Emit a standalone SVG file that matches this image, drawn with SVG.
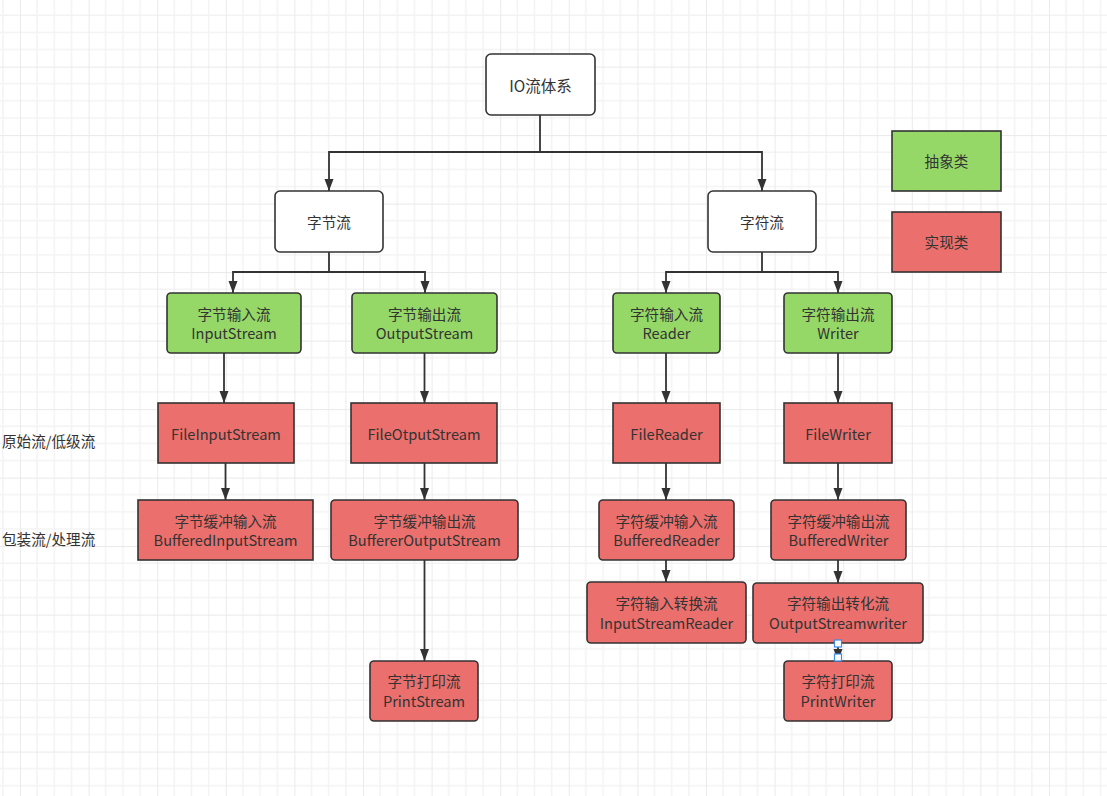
<svg xmlns="http://www.w3.org/2000/svg" width="1107" height="796" viewBox="0 0 1107 796">
  <defs>
    <pattern id="grid" patternUnits="userSpaceOnUse" x="20" y="66.6" width="68.6" height="68.5">
      <path d="M17.15 0V68.5M34.3 0V68.5M51.45 0V68.5M0 17.12H68.6M0 34.25H68.6M0 51.37H68.6" stroke="#f3f3f3" stroke-width="1.5" fill="none"/>
      <path d="M0 0V68.5M0 0H68.6" stroke="#e9e9e9" stroke-width="1.8" fill="none"/>
    </pattern>
    <marker id="arr" markerUnits="userSpaceOnUse" markerWidth="12" markerHeight="10" refX="12" refY="4.5" orient="auto">
      <path d="M0 0L12 4.5L0 9z" fill="#333"/>
    </marker>
    <style>
      .n rect{stroke:#333;stroke-width:1.6}
      .w{fill:#fff}
      .g{fill:#96d867}
      .r{fill:#eb6f6c}
      text{font-family:"Microsoft YaHei","Noto Sans CJK SC","Noto Sans",sans-serif;font-size:14.6px;fill:#333;text-anchor:middle;dominant-baseline:central}
      .lbl{text-anchor:start}
      .c path{stroke:#333;stroke-width:1.8;fill:none;marker-end:url(#arr)}
      .h{fill:#fff;stroke:#3d8eea;stroke-width:1.2}
    </style>
  </defs>
  <rect width="1107" height="796" fill="#fff"/>
  <rect width="1107" height="796" fill="url(#grid)"/>

  <g id="connectors" class="c">
    <path d="M540 115V152H329V191"/>
    <path d="M540 152H762V191"/>
    <path d="M329 252V272H233V293"/>
    <path d="M329 272H425V293"/>
    <path d="M762 252V272H666V293"/>
    <path d="M762 272H838V293"/>
    <path d="M224 353V403"/>
    <path d="M225.5 463V500"/>
    <path d="M424.5 353V403"/>
    <path d="M424.5 463V500"/>
    <path d="M424.5 560V661"/>
    <path d="M666 353V403"/>
    <path d="M666 463V500"/>
    <path d="M666 560V582"/>
    <path d="M838 353V403"/>
    <path d="M838 463V500"/>
    <path d="M838 560V583"/>
    <path d="M838 643V661"/>
  </g>

  <g id="io" class="n"><rect class="w" x="486" y="54" width="109" height="61" rx="5"/><text x="540.5" y="84.5" style="font-size:15.5px">IO流体系</text></g>
  <g id="byteStream" class="n"><rect class="w" x="275" y="191" width="108" height="61" rx="5"/><text x="329" y="221.5">字节流</text></g>
  <g id="charStream" class="n"><rect class="w" x="708" y="191" width="108" height="61" rx="5"/><text x="762" y="221.5">字符流</text></g>

  <g id="inputStream" class="n"><rect class="g" x="167" y="293" width="134" height="60" rx="4"/><text x="234" y="313">字节输入流</text><text x="234" y="332.5">InputStream</text></g>
  <g id="outputStream" class="n"><rect class="g" x="352" y="293" width="145" height="60" rx="4"/><text x="424.5" y="313">字节输出流</text><text x="424.5" y="332.5">OutputStream</text></g>
  <g id="reader" class="n"><rect class="g" x="613" y="293" width="107" height="60" rx="4"/><text x="666.5" y="313">字符输入流</text><text x="666.5" y="332.5">Reader</text></g>
  <g id="writer" class="n"><rect class="g" x="784" y="293" width="108" height="60" rx="4"/><text x="838" y="313">字符输出流</text><text x="838" y="332.5">Writer</text></g>

  <g id="fileInputStream" class="n"><rect class="r" x="158" y="403" width="136" height="60"/><text x="226" y="433">FileInputStream</text></g>
  <g id="fileOtputStream" class="n"><rect class="r" x="351" y="403" width="146" height="60"/><text x="424" y="433">FileOtputStream</text></g>
  <g id="fileReader" class="n"><rect class="r" x="613" y="403" width="107" height="60"/><text x="666.5" y="433">FileReader</text></g>
  <g id="fileWriter" class="n"><rect class="r" x="784" y="403" width="108" height="60"/><text x="838" y="433">FileWriter</text></g>

  <g id="bufferedInputStream" class="n"><rect class="r" x="138" y="500" width="175" height="60"/><text x="225.5" y="520">字节缓冲输入流</text><text x="225.5" y="539.5">BufferedInputStream</text></g>
  <g id="buffererOutputStream" class="n"><rect class="r" x="331" y="500" width="187" height="60" rx="4"/><text x="424.5" y="520">字节缓冲输出流</text><text x="424.5" y="539.5">BuffererOutputStream</text></g>
  <g id="bufferedReader" class="n"><rect class="r" x="599" y="500" width="135" height="60" rx="4"/><text x="666.5" y="520">字符缓冲输入流</text><text x="666.5" y="539.5">BufferedReader</text></g>
  <g id="bufferedWriter" class="n"><rect class="r" x="771" y="500" width="135" height="60" rx="4"/><text x="838.5" y="520">字符缓冲输出流</text><text x="838.5" y="539.5">BufferedWriter</text></g>

  <g id="inputStreamReader" class="n"><rect class="r" x="587" y="582" width="159" height="61" rx="4"/><text x="666.5" y="602.5">字符输入转换流</text><text x="666.5" y="622">InputStreamReader</text></g>
  <g id="outputStreamwriter" class="n"><rect class="r" x="753" y="583" width="170" height="60" rx="4"/><text x="838" y="602.5">字符输出转化流</text><text x="838" y="622">OutputStreamwriter</text></g>

  <g id="printStream" class="n"><rect class="r" x="370" y="661" width="108" height="60" rx="4"/><text x="424" y="680.5">字节打印流</text><text x="424" y="700">PrintStream</text></g>
  <g id="printWriter" class="n"><rect class="r" x="784" y="661" width="108" height="60" rx="4"/><text x="838" y="680.5">字符打印流</text><text x="838" y="700">PrintWriter</text></g>

  <g id="handles">
    <rect class="h" x="834.5" y="640" width="7" height="7"/>
    <rect class="h" x="834.5" y="654" width="7" height="7"/>
  </g>

  <g id="legendAbstract" class="n"><rect class="g" x="892" y="131" width="109" height="60"/><text x="946.5" y="160.5">抽象类</text></g>
  <g id="legendImpl" class="n"><rect class="r" x="892" y="212" width="109" height="60"/><text x="946.5" y="241.5">实现类</text></g>

  <g id="labels">
    <text class="lbl" x="2" y="440">原始流/低级流</text>
    <text class="lbl" x="2" y="538">包装流/处理流</text>
  </g>
</svg>
